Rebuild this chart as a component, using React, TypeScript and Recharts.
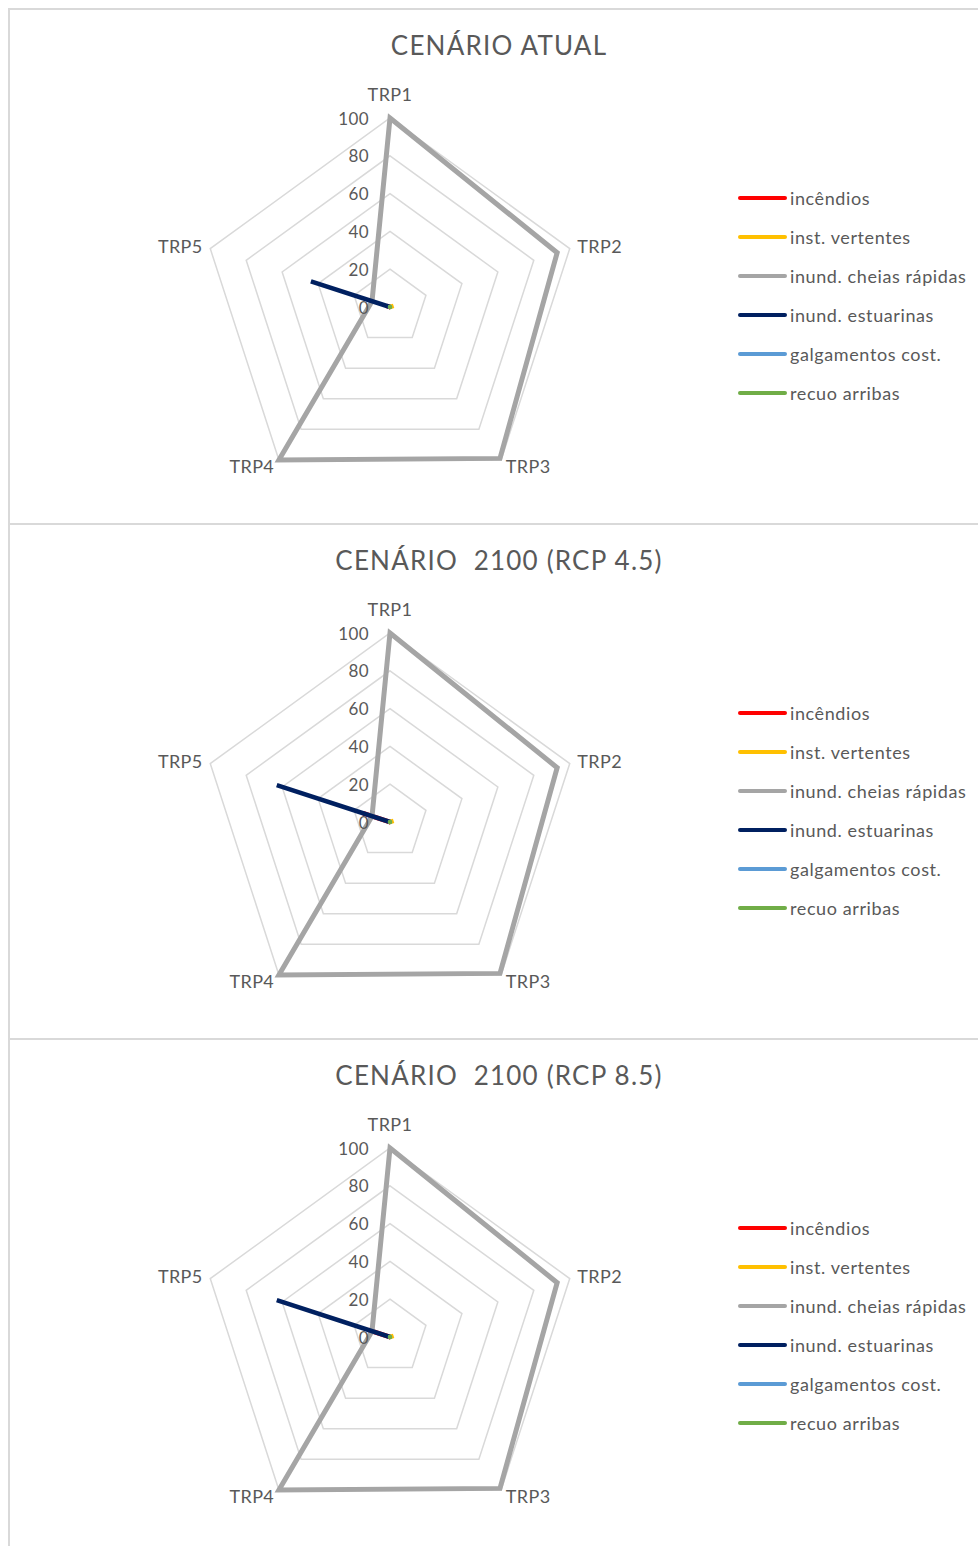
import React from 'react';
import { RadarChart, Radar, PolarGrid, PolarAngleAxis, PolarRadiusAxis, Legend } from 'recharts';

const categories = ['TRP1', 'TRP2', 'TRP3', 'TRP4', 'TRP5'];
const radiusTicks = [0, 20, 40, 60, 80, 100];
const seriesNames = ['incêndios', 'inst. vertentes', 'inund. cheias rápidas', 'inund. estuarinas', 'galgamentos cost.', 'recuo arribas'];
const seriesColors = ['#FF0000', '#FFC000', '#A5A5A5', '#002060', '#5B9BD5', '#70AD47'];
const scenarioTitles = ['CENÁRIO ATUAL', 'CENÁRIO  2100 (RCP 4.5)', 'CENÁRIO  2100 (RCP 8.5)'];

// CENÁRIO ATUAL
const atualIncendios = [0, 0, 1, 0, 2];
const atualVertentes = [0, 2, 0, 0, 0];
const atualCheias = [100, 93, 99, 100, 10];
const atualEstuarinas = [0, 0, 0, 0, 44];
const atualGalgamentos = [0, 0, 0, 0, 0];
const atualArribas = [0, 0, 0, 0, 0];

// CENÁRIO 2100 (RCP 4.5)
const rcp45Incendios = [0, 0, 1, 0, 15];
const rcp45Vertentes = [0, 2, 0, 0, 0];
const rcp45Cheias = [100, 93, 99, 100, 10];
const rcp45Estuarinas = [0, 0, 0, 0, 63];
const rcp45Galgamentos = [0, 0, 0, 0, 0];
const rcp45Arribas = [0, 0, 0, 0, 0];

// CENÁRIO 2100 (RCP 8.5)
const rcp85Incendios = [0, 0, 1, 0, 12];
const rcp85Vertentes = [0, 2, 0, 0, 0];
const rcp85Cheias = [100, 93, 99, 100, 10];
const rcp85Estuarinas = [0, 0, 0, 0, 63];
const rcp85Galgamentos = [0, 0, 0, 0, 0];
const rcp85Arribas = [0, 0, 0, 0, 0];

const scenarios = [
  [atualIncendios, atualVertentes, atualCheias, atualEstuarinas, atualGalgamentos, atualArribas],
  [rcp45Incendios, rcp45Vertentes, rcp45Cheias, rcp45Estuarinas, rcp45Galgamentos, rcp45Arribas],
  [rcp85Incendios, rcp85Vertentes, rcp85Cheias, rcp85Estuarinas, rcp85Galgamentos, rcp85Arribas],
];

const FONT = 'Lato, "Open Sans", sans-serif';
const TEXT = '#595959';

function buildRows(series: number[][]) {
  return categories.map((c, i) => {
    const row: Record<string, any> = { cat: c };
    series.forEach((s, k) => {
      row['s' + k] = s[i];
    });
    return row;
  });
}

const AngleTick = (props: any) => {
  const { x, y, textAnchor, payload } = props;
  const dy = textAnchor === 'middle' ? -16 : 0;
  return (
    <text x={x} y={y + dy} textAnchor={textAnchor} dominantBaseline="central" fontSize={18} letterSpacing={0.4} fontFamily={FONT} fill={TEXT}>
      {payload.value}
    </text>
  );
};

const RadiusTick = (props: any) => {
  const { x, y, payload } = props;
  return (
    <text x={x - 21} y={y} textAnchor="end" dominantBaseline="central" fontSize={17} letterSpacing={0.4} fontFamily={FONT} fill={TEXT}>
      {payload.value}
    </text>
  );
};

const LegendContent = () => (
  <div style={{ fontFamily: FONT }}>
    {seriesNames.map((n, i) => (
      <div key={n} style={{ height: 39, display: 'flex', alignItems: 'center' }}>
        <div style={{ width: 49, height: 4, borderRadius: 2, background: seriesColors[i], marginRight: 3 }} />
        <span style={{ fontSize: 18, color: TEXT, whiteSpace: 'nowrap', letterSpacing: 0.6 }}>{n}</span>
      </div>
    ))}
  </div>
);

const Panel = ({ index }: { index: number }) => {
  const rows = buildRows(scenarios[index]);
  return (
    <div
      style={{
        position: 'absolute',
        left: 8,
        top: 8 + index * 515,
        width: 990,
        height: 515,
        borderTop: '2px solid #d9d9d9',
        borderLeft: '2px solid #d9d9d9',
        boxSizing: 'border-box',
        background: '#fff',
      }}
    >
      <div
        style={{
          position: 'absolute',
          left: 0,
          top: 20,
          width: 978,
          textAlign: 'center',
          fontFamily: FONT,
          fontSize: 26,
          lineHeight: '30px',
          letterSpacing: 1.2,
          color: TEXT,
          whiteSpace: 'pre',
        }}
      >
        {scenarioTitles[index]}
      </div>
      <div style={{ position: 'absolute', left: 0, top: 0 }}>
        <RadarChart width={960} height={505} cx={380} cy={297} outerRadius={189} data={rows}>
          <PolarGrid gridType="polygon" radialLines={false} stroke="#d9d9d9" strokeWidth={1.5} />
          <PolarAngleAxis dataKey="cat" tick={<AngleTick />} axisLine={false} tickLine={false} />
          <PolarRadiusAxis
            angle={90}
            domain={[0, 100]}
            ticks={radiusTicks as any}
            tickCount={6}
            axisLine={false}
            tickLine={false}
            tick={<RadiusTick />}
          />
          {seriesNames.map((n, k) => (
            <Radar
              key={n}
              name={n}
              dataKey={'s' + k}
              stroke={seriesColors[k]}
              strokeWidth={k === 2 ? 5 : 4.5}
              strokeLinecap="round"
              fill="none"
              fillOpacity={0}
              dot={false}
              isAnimationActive={false}
            />
          ))}
          <Legend
            content={<LegendContent />}
            wrapperStyle={{ position: 'absolute', left: 728, top: 168, width: 250 }}
          />
        </RadarChart>
      </div>
    </div>
  );
}

export default function App() {
  return (
    <div style={{ position: 'absolute', left: 0, top: 0, width: 978, height: 1546, overflow: 'hidden', background: '#fff' }}>
      {[0, 1, 2].map((i) => (
        <Panel key={i} index={i} />
      ))}
    </div>
  );
}
